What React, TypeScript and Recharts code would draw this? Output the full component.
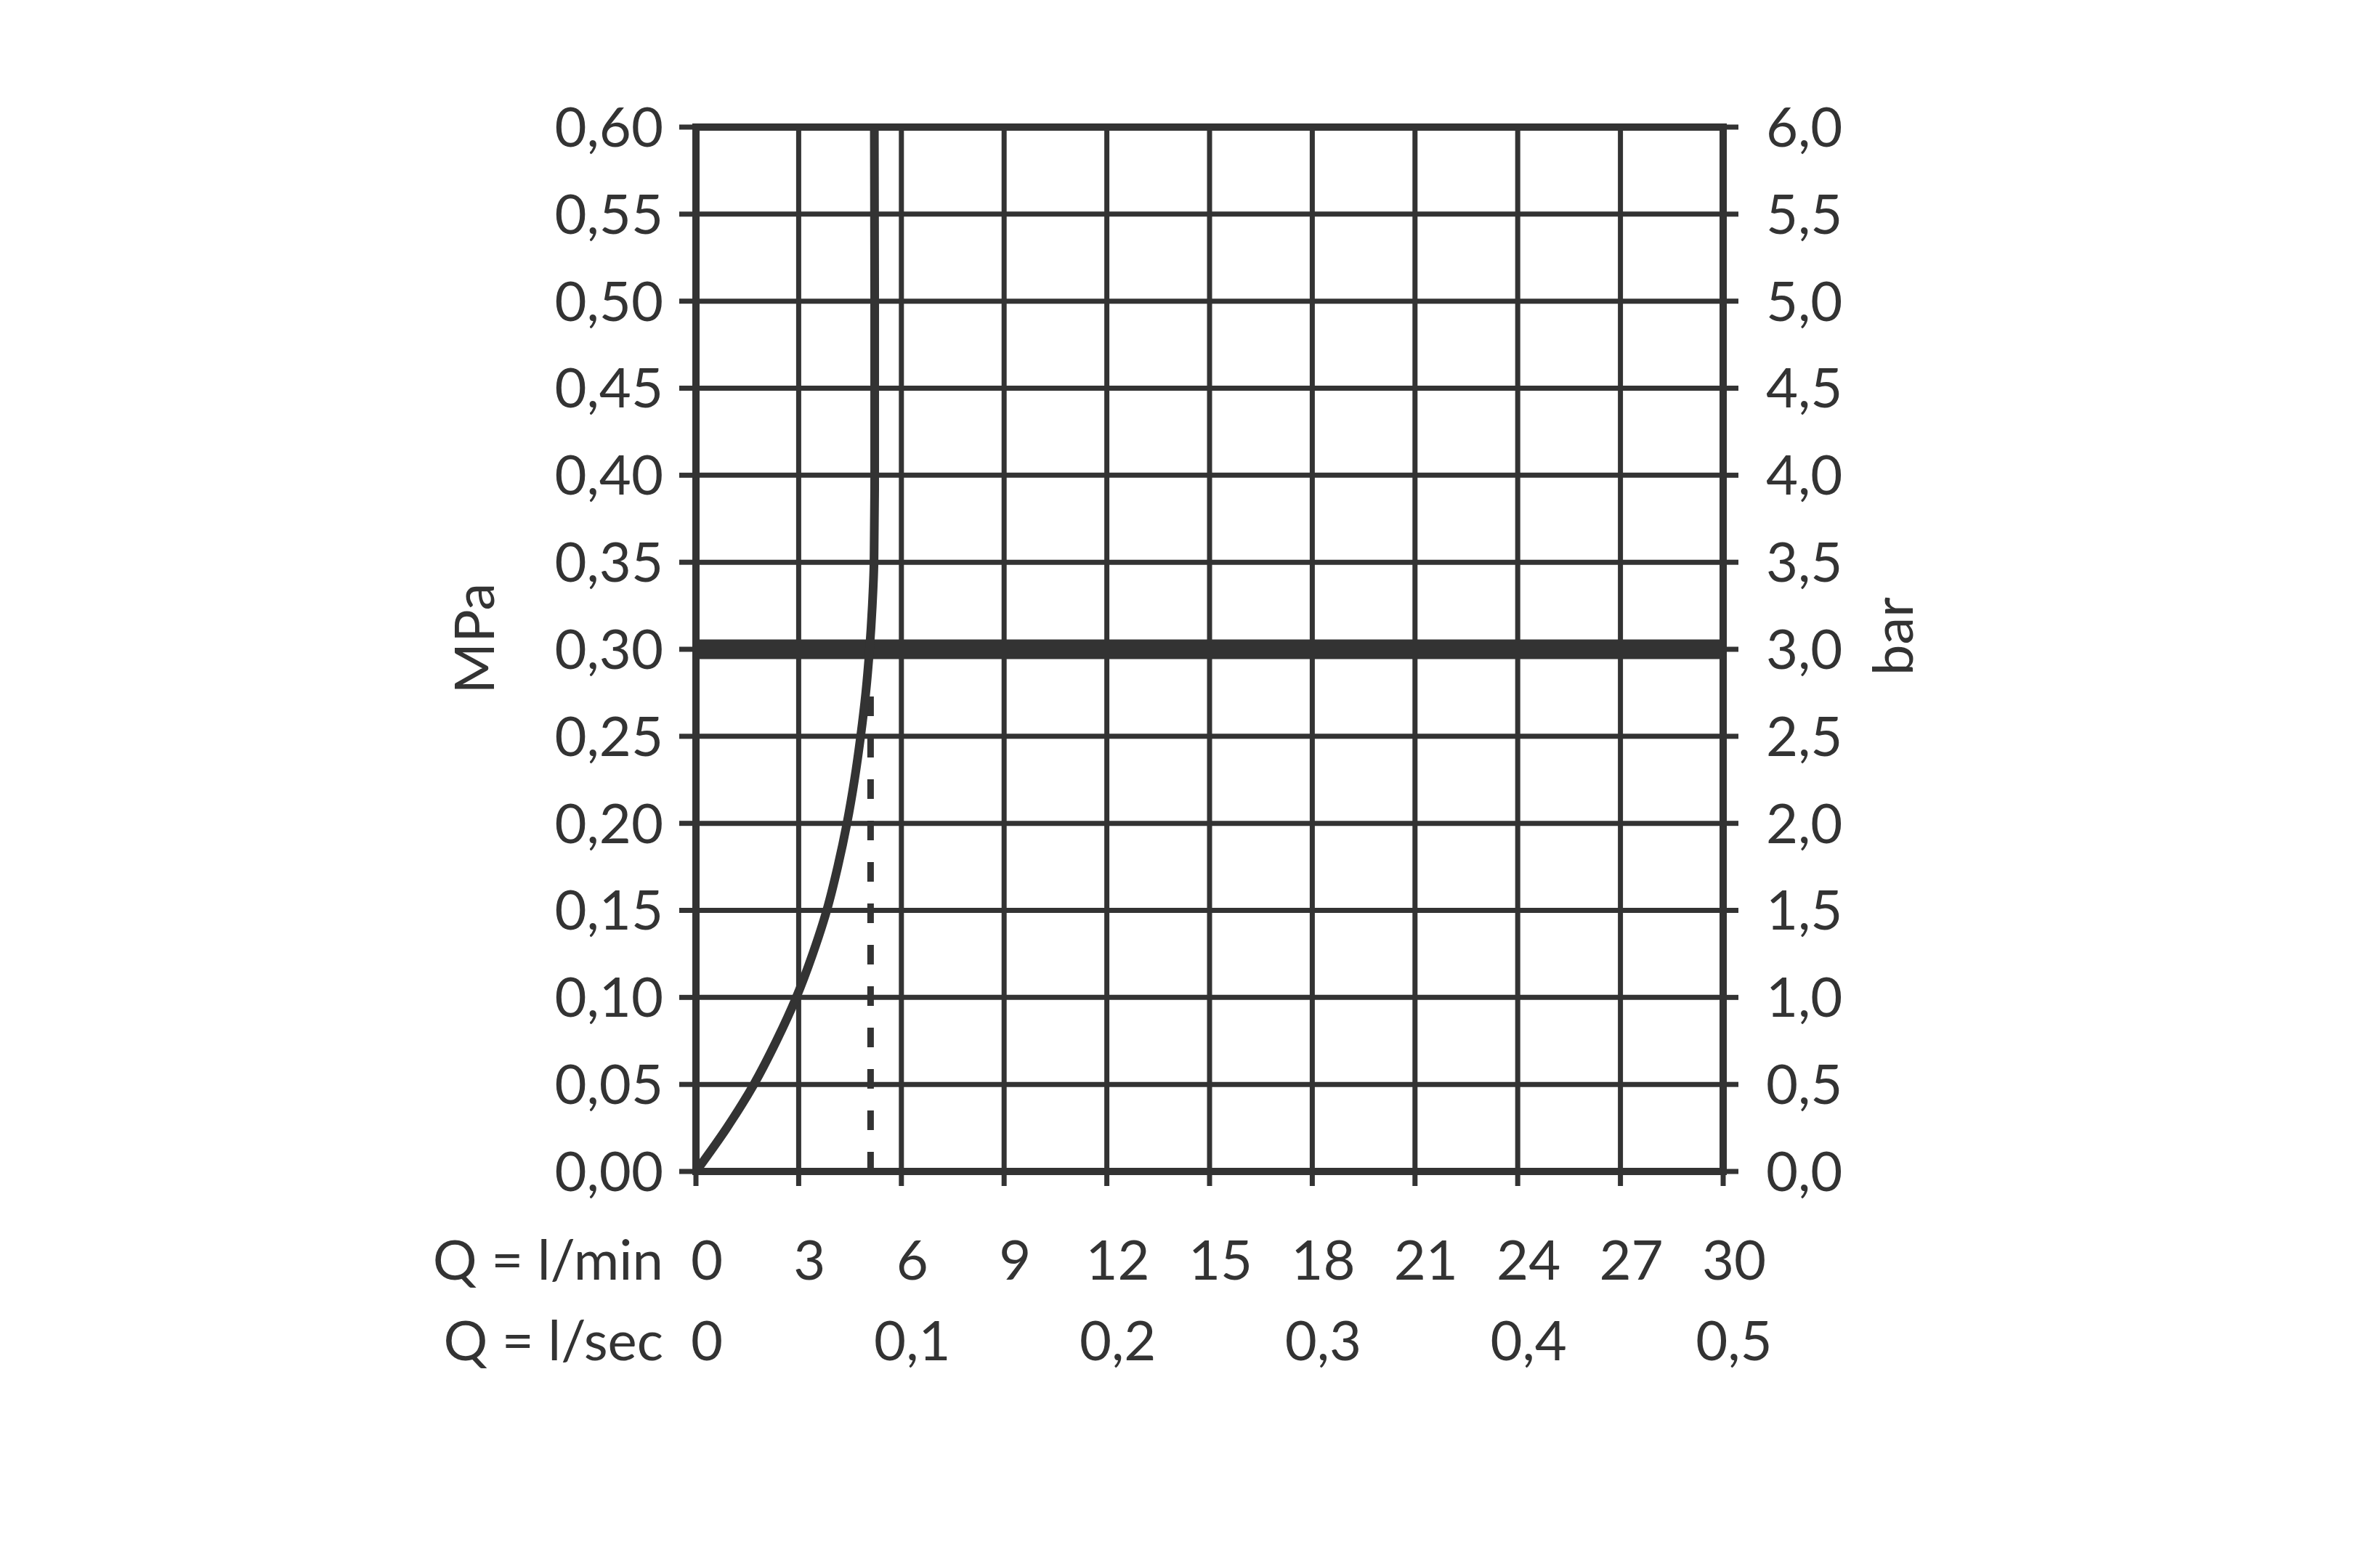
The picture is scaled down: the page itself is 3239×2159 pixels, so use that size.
import React from 'react';
import { LineChart, Line, XAxis, YAxis, CartesianGrid, ReferenceLine, Label } from 'recharts';

// Flow curve (flow in l/min, pressure in MPa), top to bottom
const flowLpm = [5.21, 5.22, 5.22, 5.2, 5.15, 5.07, 4.96, 4.81, 4.63, 4.41, 4.14, 3.82, 3.41, 2.93, 2.35, 1.69, 0.9, 0];
const pressureMPa = [0.6, 0.5, 0.4, 0.35, 0.325, 0.3, 0.275, 0.25, 0.225, 0.2, 0.175, 0.15, 0.125, 0.1, 0.075, 0.05, 0.025, 0];

// Reference marks
const maxPressureMPa = 0.3;
const dashedFlowLpm = 5.1;
const dashedTopMPa = 0.278;

// Tick values
const minTicks = [0, 3, 6, 9, 12, 15, 18, 21, 24, 27, 30];
const secTicks = [0, 0.1, 0.2, 0.3, 0.4, 0.5];
const mpaTicks = [0, 0.05, 0.1, 0.15, 0.2, 0.25, 0.3, 0.35, 0.4, 0.45, 0.5, 0.55, 0.6];
const barTicks = [0, 0.5, 1, 1.5, 2, 2.5, 3, 3.5, 4, 4.5, 5, 5.5, 6];

// Texts
const minCaption = 'Q = l/min';
const secCaption = 'Q = l/sec';
const leftUnit = 'MPa';
const rightUnit = 'bar';

const data = flowLpm.map((q, i) => ({ q, p: pressureMPa[i] }));

const SEC_PER_MIN = 60;
const secTicksInLpm = secTicks.map((s) => Math.round(s * SEC_PER_MIN * 1000) / 1000);

const INK = '#333333';
const FONT = "Lato, 'Noto Sans', sans-serif";
const FS = 76;

const comma = (s: string) => s.replace('.', ',');

function MinTick(props: any) {
  const { x, y, payload } = props;
  return (
    <g>
      <text x={x + 15} y={y} textAnchor="middle" fill={INK} fontSize={FS} fontFamily={FONT}>
        {String(payload.value)}
      </text>
      {payload.value === 0 ? (
        <text x={x - 45} y={y} textAnchor="end" fill={INK} fontSize={FS} fontFamily={FONT}>
          {minCaption}
        </text>
      ) : null}
    </g>
  );
}

function SecTick(props: any) {
  const { x, y, payload } = props;
  const v = (payload.value as number) / SEC_PER_MIN;
  return (
    <g>
      <text x={x + 15} y={y} textAnchor="middle" fill={INK} fontSize={FS} fontFamily={FONT}>
        {v === 0 ? '0' : comma(v.toFixed(1))}
      </text>
      {v === 0 ? (
        <text x={x - 45} y={y} textAnchor="end" fill={INK} fontSize={FS} fontFamily={FONT}>
          {secCaption}
        </text>
      ) : null}
    </g>
  );
}

export default function App() {
  return (
    <div style={{ background: '#ffffff' }}>
      <LineChart
        width={3200}
        height={2100}
        data={data}
        margin={{ top: 167, right: 0, left: 0, bottom: 215 }}
      >
        <CartesianGrid xAxisId="min" yAxisId="mpa" stroke={INK} strokeWidth={7} fill="none" />
        <XAxis
          xAxisId="min"
          dataKey="q"
          type="number"
          domain={[0, 30]}
          ticks={minTicks}
          interval={0}
          allowDataOverflow
          height={120}
          tickSize={20}
          tickMargin={129}
          axisLine={{ stroke: INK, strokeWidth: 10, strokeLinecap: 'square' }}
          tickLine={{ stroke: INK, strokeWidth: 7 }}
          tick={(p: any) => <MinTick {...p} />}
        />
        <XAxis
          xAxisId="sec"
          dataKey="q"
          type="number"
          domain={[0, 30]}
          ticks={secTicksInLpm}
          interval={0}
          allowDataOverflow
          height={160}
          tickSize={0}
          tickMargin={140}
          axisLine={false}
          tickLine={false}
          tick={(p: any) => <SecTick {...p} />}
        />
        <YAxis
          yAxisId="mpa"
          type="number"
          domain={[0, 0.6]}
          ticks={mpaTicks}
          interval={0}
          allowDataOverflow
          width={950}
          tickSize={23}
          tickMargin={22}
          axisLine={{ stroke: INK, strokeWidth: 10, strokeLinecap: 'square' }}
          tickLine={{ stroke: INK, strokeWidth: 7 }}
          tick={{ fill: INK, fontSize: FS, fontFamily: FONT }}
          tickFormatter={(v: number) => comma(v.toFixed(2))}
        >
          <Label
            content={() => (
              <text
                x={672}
                y={871}
                transform="rotate(-90, 672, 871)"
                textAnchor="middle"
                fill={INK}
                fontSize={FS}
                fontFamily={FONT}
              >
                {leftUnit}
              </text>
            )}
          />
        </YAxis>
        <YAxis
          yAxisId="bar"
          orientation="right"
          type="number"
          domain={[0, 6]}
          ticks={barTicks}
          interval={0}
          allowDataOverflow
          width={836}
          tickSize={21}
          tickMargin={38}
          axisLine={{ stroke: INK, strokeWidth: 10, strokeLinecap: 'square' }}
          tickLine={{ stroke: INK, strokeWidth: 7 }}
          tick={{ fill: INK, fontSize: FS, fontFamily: FONT }}
          tickFormatter={(v: number) => comma(v.toFixed(1))}
        >
          <Label
            content={() => (
              <text
                x={2625}
                y={868}
                transform="rotate(-90, 2625, 868)"
                textAnchor="middle"
                fill={INK}
                fontSize={FS}
                fontFamily={FONT}
              >
                {rightUnit}
              </text>
            )}
          />
        </YAxis>
        <ReferenceLine
          xAxisId="min"
          yAxisId="mpa"
          y={0.6}
          stroke={INK}
          strokeWidth={10}
          strokeLinecap="square"
        />
        <ReferenceLine xAxisId="min" yAxisId="mpa" y={maxPressureMPa} stroke={INK} strokeWidth={27} />
        <ReferenceLine
          xAxisId="min"
          yAxisId="mpa"
          segment={[
            { x: dashedFlowLpm, y: 0 },
            { x: dashedFlowLpm, y: dashedTopMPa },
          ]}
          stroke={INK}
          strokeWidth={9}
          strokeDasharray="27 30"
        />
        <Line
          xAxisId="min"
          yAxisId="mpa"
          dataKey="p"
          type="monotoneY"
          stroke={INK}
          strokeWidth={12}
          dot={false}
          activeDot={false}
          isAnimationActive={false}
        />
      </LineChart>
    </div>
  );
}
